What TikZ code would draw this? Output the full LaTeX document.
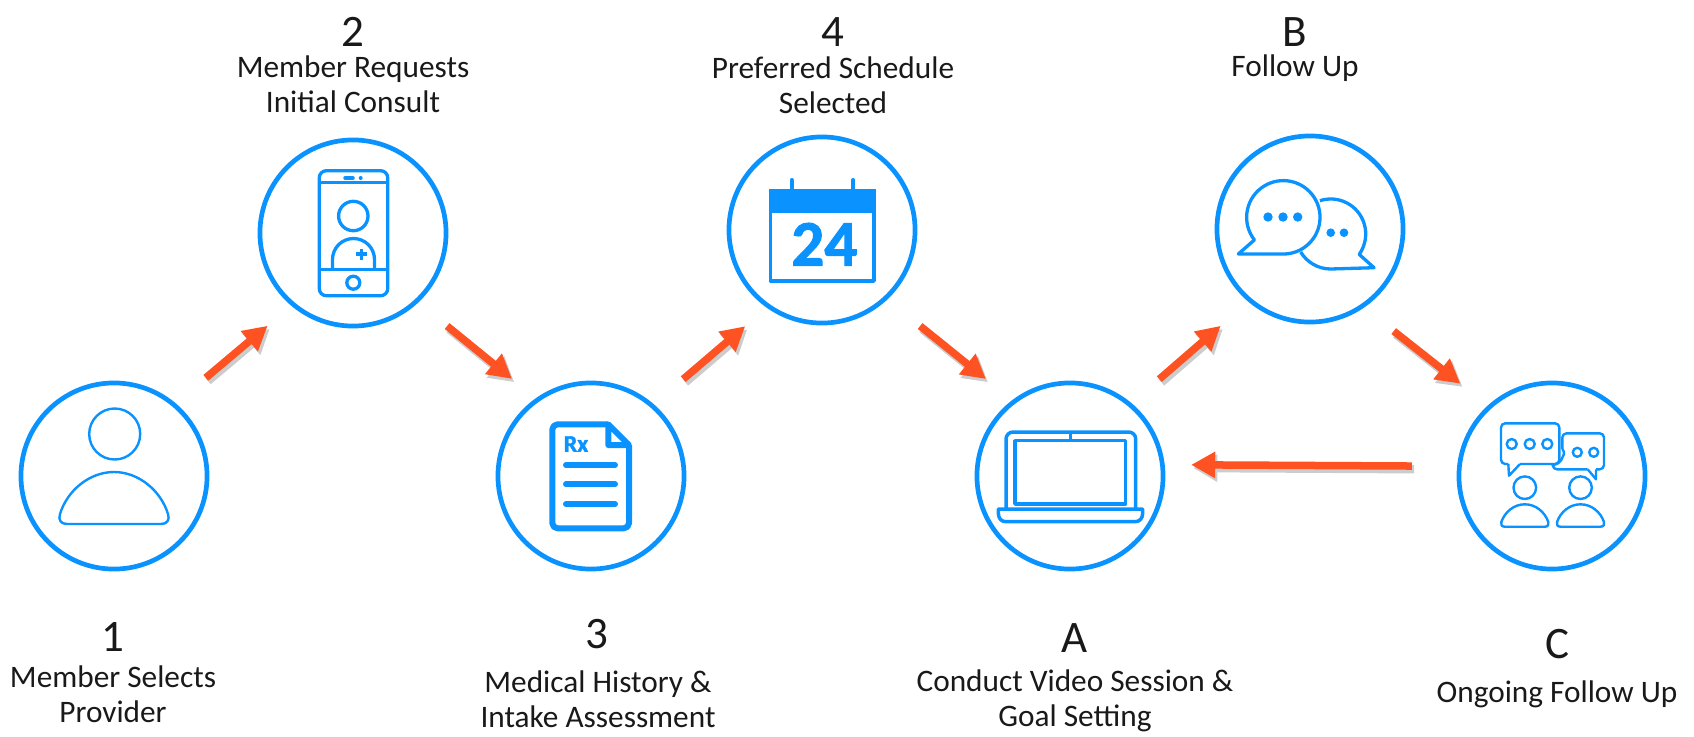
\documentclass[tikz,border=0pt]{standalone}
\usepackage{fontspec}
\usepackage{tikz}
\usetikzlibrary{arrows.meta}
\setmainfont{Carlito}
\newfontfamily\iconfont[FakeBold=1.6]{Carlito Bold}
\definecolor{iconblue}{HTML}{0A93FF}
\definecolor{flowred}{HTML}{FF5222}
\tikzset{ring/.style = {circle, draw=iconblue, line width=0.047cm, minimum size=1.86cm,
                        inner sep=0, outer sep=0},
         digit/.style = {font=\fontsize{12.8}{14}\selectfont, text=black!90},
         caption/.style = {font=\fontsize{8.9}{10}\selectfont, align=center, text=black!90},
         icon/.style = {draw=iconblue, line width=0.033cm, line join=round},
         thinicon/.style = {icon, line width=0.024cm},
         flow/.style = {draw=flowred, line width=0.075cm,
                        -{Triangle[length=0.24cm, width=0.25cm]}},
         flowshade/.style = {draw=#1, line width=0.085cm,
                             -{Triangle[length=0.24cm, width=0.26cm]},
                             transform canvas={xshift=0.6pt, yshift=-0.9pt}}}

\begin{document}
\begin{tikzpicture}[x=0.01cm, y=-0.01cm]
    \useasboundingbox (0, 0) rectangle (1694, 736);

    \node [ring] (provider) at (114, 476) {};
    \node [ring] (consult) at (353, 233) {};
    \node [ring] (intake) at (591, 476) {};
    \node [ring] (schedule) at (822, 230) {};
    \node [ring] (session) at (1070, 476) {};
    \node [ring] (followup) at (1310, 229) {};
    \node [ring] (ongoing) at (1552, 476) {};

    \node [digit] (num1) at (113, 637) {1};
    \node [caption] (cap1) at (113, 694) {Member Selects\\Provider};
    \node [digit] (num2) at (353, 32) {2};
    \node [caption] (cap2) at (353, 84) {Member Requests\\Initial Consult};
    \node [digit] (num3) at (597, 634) {3};
    \node [caption] (cap3) at (598, 699) {Medical History \&\\Intake Assessment};
    \node [digit] (num4) at (833, 32) {4};
    \node [caption] (cap4) at (833, 85) {Preferred Schedule\\Selected};
    \node [digit] (numA) at (1075, 638) {A};
    \node [caption] (capA) at (1075, 701) {Conduct Video Session \&\\Goal Setting};
    \node [digit] (numB) at (1295, 32) {B};
    \node [caption] (capB) at (1295, 68) {Follow Up};
    \node [digit] (numC) at (1557, 644) {C};
    \node [caption] (capC) at (1557, 694) {Ongoing Follow Up};

    \foreach \src/\srcang/\dst/\dstang/\cutsrc/\cutdst in {
        provider/50/consult/230/0.418cm/0.334cm,
        consult/313/intake/125/0.395cm/0.33cm,
        intake/49/schedule/235/0.41cm/0.308cm,
        schedule/313/session/127/0.445cm/0.361cm,
        session/50/followup/230/0.39cm/0.39cm,
        followup/304/ongoing/132.5/0.403cm/0.374cm,
        ongoing/174/session/7/0.475cm/0.288cm} {
      \draw [flowshade=black!20, shorten <=\cutsrc, shorten >=\cutdst]
        (\src.\srcang) -- (\dst.\dstang);
      \draw [flow, shorten <=\cutsrc, shorten >=\cutdst] (\src.\srcang) -- (\dst.\dstang);
    }

    % person
    \begin{scope}[shift={(114, 476)}]
      \draw [thinicon] (0.7, -42) circle [radius=25.5];
      \draw [thinicon] (-47, 48) -- (47, 48) .. controls (53, 48) and (56, 44) .. (54, 38)
        .. controls (47, 15) and (25, -4) .. (0, -4)
        .. controls (-25, -4) and (-47, 15) .. (-54, 38)
        .. controls (-56, 44) and (-53, 48) .. (-47, 48) -- cycle;
    \end{scope}

    % phone
    \begin{scope}[shift={(353, 233)}]
      \draw [icon, rounded corners=2pt] (-33.7, -62.3) rectangle (34.7, 62.7);
      \draw [icon] (-33.7, -50.7) -- (34.7, -50.7);
      \draw [icon] (-33.7, 36.3) -- (34.7, 36.3);
      \draw [icon, line width=0.035cm, line cap=round] (-8, -55) -- (0, -55);
      \fill [iconblue] (7.7, -55) circle [radius=2];
      \draw [icon] (0.3, -17) circle [radius=14.7];
      \draw [icon] (-20.5, 36.3) -- (-20.5, 26.5) arc [start angle=180, end angle=360, radius=21]
        -- (21.5, 36.3);
      \draw [icon] (3.2, 21) -- (14.2, 21) (8.7, 15.5) -- (8.7, 26.5);
      \draw [icon] (0.3, 49.7) circle [radius=6.5];
    \end{scope}

    % prescription
    \begin{scope}[shift={(591, 476)}]
      \draw [icon, line width=0.06cm, rounded corners=1.5pt] (17.3, -51.7) -- (-38.7, -51.7)
        -- (-38.7, 52.3) -- (38, 52.3) -- (38, -31);
      \draw [icon, line width=0.06cm] (17.3, -51.7) -- (38, -31) -- (17.3, -31) -- cycle;
      \node [font=\iconfont\fontsize{6.8}{7}\selectfont, text=iconblue] (rxmark) at (-15, -32) {Rx};
      \foreach \rowy in {-11, 8.3, 28} {
        \draw [icon, line width=0.06cm, line cap=round] (-25, \rowy) -- (24, \rowy);
      }
    \end{scope}

    % calendar
    \begin{scope}[shift={(822, 230)}]
      \draw [icon, line width=0.035cm] (-51.6, -30) rectangle (52, 51);
      \fill [iconblue] (-53.3, -41.3) rectangle (53.7, -17.3);
      \draw [icon, line width=0.04cm, line cap=round] (-30.3, -50) -- (-30.3, -41);
      \draw [icon, line width=0.04cm, line cap=round] (31.3, -50) -- (31.3, -41);
      \node [font=\iconfont\fontsize{18.5}{20}\selectfont, text=iconblue] (datemark) at (2.3, 14.3) {24};
    \end{scope}

    % laptop
    \begin{scope}[shift={(1070, 476)}]
      \draw [icon, line width=0.035cm, rounded corners=2pt] (-64, 33) -- (-64, -44) -- (65.7, -44) -- (65.7, 33);
      \draw [icon, line width=0.035cm] (-55, -35.3) rectangle (55.7, 28);
      \draw [icon] (0.7, -44) -- (0.7, -35.3);
      \draw [icon, line width=0.035cm] (-71.7, 33) -- (72.7, 33) -- (72.7, 37)
        .. controls (72.7, 42) and (70, 45.7) .. (65, 45.7) -- (-64, 45.7)
        .. controls (-69, 45.7) and (-71.7, 42) .. (-71.7, 37) -- cycle;
    \end{scope}

    % two bubbles
    \begin{scope}[shift={(1310, 229)}]
      \draw [icon] (9.9, -28.3) arc [start angle=252, end angle=395.6, radius=35]
        -- (64, 38.7) -- (20.7, 40) arc [start angle=90, end angle=149, radius=35];
      \draw [icon] (-55.6, 10.9) arc [start angle=142, end angle=450, radius=36.7]
        -- (-71.7, 25) -- cycle;
      \foreach \dotx in {-42, -27, -12.3} {
        \fill [iconblue] (\dotx, -12) circle [radius=4.7];
      }
      \foreach \dotx in {20.7, 34} {
        \fill [iconblue] (\dotx, 3.7) circle [radius=4.3];
      }
    \end{scope}

    % two people talking
    \begin{scope}[shift={(1552, 476)}]
      \draw [thinicon, rounded corners=1.2pt] (-32, -12) -- (7.3, -12) -- (7.3, -52.7)
        -- (-51, -52.7) -- (-51, -12) -- (-43.7, -12);
      \draw [thinicon] (-43.7, -12) -- (-43, -0.3) -- (-32, -12);
      \draw [thinicon] (35.7, -6.7) -- (44, 3.3) -- (44, -6.7);
      \draw [thinicon, rounded corners=1.2pt] (44, -6.7) -- (52, -6.7) -- (52, -42.7) -- (10.3, -42.7)
        -- (10.3, -27);
      \draw [thinicon] (10.3, -27) .. controls (10.5, -25) and (13, -25) .. (12, -22)
        .. controls (10, -19) and (10, -12) .. (0.5, -11)
        .. controls (1, -8) and (3, -6.7) .. (5, -6.7) -- (35.7, -6.7);
      \foreach \dotx in {-40.3, -22.3, -4.7} {
        \draw [thinicon] (\dotx, -32) circle [radius=5];
      }
      \foreach \dotx in {25.3, 41.7} {
        \draw [thinicon] (\dotx, -23.7) circle [radius=4.5];
      }
      \foreach \bodyx in {-27.2, 28.5} {
        \draw [thinicon] (\bodyx, 11.7) circle [radius=11.3];
        \begin{scope}[shift={(\bodyx, 0)}]
          \draw [thinicon] (-20, 50.7) -- (20, 50.7) .. controls (23, 50.7) and (24.5, 48.5) .. (23.5, 46)
            .. controls (20, 36) and (11, 28.3) .. (0, 28.3)
            .. controls (-11, 28.3) and (-20, 36) .. (-23.5, 46)
            .. controls (-24.5, 48.5) and (-23, 50.7) .. (-20, 50.7) -- cycle;
        \end{scope}
      }
    \end{scope}
  \end{tikzpicture}
\end{document}
